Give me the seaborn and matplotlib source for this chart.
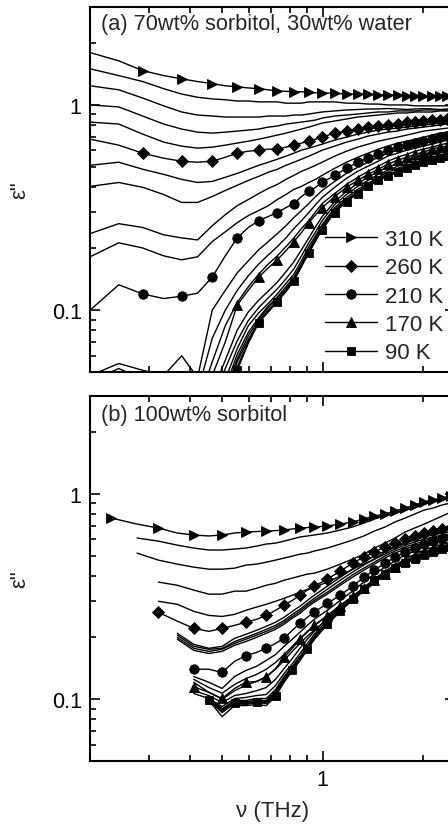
import numpy as np
import pandas as pd
import matplotlib
matplotlib.use("Agg")
import matplotlib.pyplot as plt
from matplotlib import ticker
import seaborn as sns

nan = np.nan

# ---------------- data ----------------
TEMPS = [310, 300, 290, 280, 270, 260, 250, 240, 230, 220, 210, 200,
         190, 180, 170, 160, 150, 140, 130, 120, 110, 100, 90]

FREQ_A = [0.200, 0.244, 0.288, 0.333, 0.377, 0.421, 0.466, 0.510, 0.554, 0.598,
          0.643, 0.687, 0.731, 0.776, 0.820, 0.864, 0.909, 0.953, 0.997,
          1.087, 1.18, 1.275, 1.37, 1.47, 1.57, 1.68, 1.79, 1.90, 2.01, 2.13,
          2.25, 2.37, 2.50]

FREQ_B = [0.232, 0.277, 0.321, 0.366, 0.410, 0.455, 0.499, 0.544, 0.588, 0.633,
          0.677, 0.722, 0.766, 0.811, 0.855, 0.900, 0.944,
          1.033, 1.13, 1.23, 1.33, 1.43, 1.54, 1.65, 1.77, 1.89, 2.02, 2.15,
          2.29, 2.43, 2.57]

# (a) 70wt% sorbitol, 30wt% water
A310 = [1.80, 1.64, 1.47, 1.39, 1.34, 1.30, 1.27, 1.24, 1.225, 1.21, 1.20, 1.185, 1.17, 1.165, 1.16, 1.16, 1.15, 1.145, 1.145,
        1.14, 1.13, 1.13, 1.125, 1.12, 1.115, 1.115, 1.11, 1.11, 1.105, 1.10, 1.10, 1.10, 1.10]
A300 = [1.50, 1.39, 1.30, 1.20, 1.13, 1.09, 1.07, 1.06, 1.045, 1.045, 1.035, 1.035, 1.035, 1.02, 1.02, 1.02, 1.035, 1.035, 1.035,
        1.035, 1.02, 1.02, 1.01, 1.01, 1.00, 1.00, 1.00, 0.99, 0.99, 0.99, 0.99, 0.99, 0.99]
A290 = [1.24, 1.185, 1.08, 0.99, 0.924, 0.893, 0.883, 0.873, 0.873, 0.873, 0.873, 0.883, 0.883, 0.883, 0.893, 0.893, 0.903, 0.914, 0.924,
        0.935, 0.945, 0.95, 0.956, 0.956, 0.96, 0.956, 0.95, 0.956, 0.96, 0.956, 0.95, 0.956, 0.956]
A280 = [1.00, 0.978, 0.883, 0.807, 0.763, 0.737, 0.729, 0.737, 0.746, 0.754, 0.763, 0.78, 0.789, 0.807, 0.816, 0.825, 0.835, 0.844, 0.863,
        0.883, 0.893, 0.903, 0.914, 0.924, 0.924, 0.935, 0.935, 0.935, 0.945, 0.945, 0.945, 0.945, 0.945]
A270 = [0.825, 0.807, 0.721, 0.659, 0.63, 0.616, 0.623, 0.637, 0.652, 0.666, 0.681, 0.697, 0.713, 0.729, 0.746, 0.763, 0.78, 0.798, 0.816,
        0.835, 0.854, 0.873, 0.883, 0.893, 0.903, 0.914, 0.914, 0.924, 0.924, 0.924, 0.935, 0.935, 0.935]
A260 = [0.681, 0.637, 0.582, 0.55, 0.532, 0.526, 0.532, 0.556, 0.582, 0.595, 0.602, 0.609, 0.609, 0.623, 0.637, 0.652, 0.666, 0.681, 0.697,
        0.729, 0.746, 0.763, 0.78, 0.789, 0.798, 0.807, 0.825, 0.83, 0.835, 0.844, 0.849, 0.854, 0.854]
A250 = [0.508, 0.526, 0.486, 0.459, 0.434, 0.419, 0.424, 0.444, 0.464, 0.486, 0.508, 0.526, 0.544, 0.563, 0.582, 0.602, 0.616, 0.63, 0.644,
        0.674, 0.697, 0.721, 0.737, 0.754, 0.763, 0.771, 0.78, 0.789, 0.798, 0.807, 0.816, 0.816, 0.825]
A240 = [0.401, 0.419, 0.397, 0.366, 0.335, 0.335, 0.358, 0.383, 0.406, 0.429, 0.449, 0.47, 0.486, 0.508, 0.526, 0.544, 0.563, 0.582, 0.602,
        0.63, 0.659, 0.681, 0.705, 0.721, 0.737, 0.746, 0.763, 0.771, 0.78, 0.789, 0.798, 0.807, 0.807]
A230 = [0.236, 0.264, 0.253, 0.233, 0.225, 0.22, 0.258, 0.292, 0.323, 0.346, 0.37, 0.392, 0.41, 0.434, 0.454, 0.475, 0.491, 0.508, 0.526,
        0.563, 0.595, 0.623, 0.644, 0.666, 0.681, 0.697, 0.713, 0.729, 0.746, 0.754, 0.763, 0.771, 0.78]
A220 = [0.182, 0.213, 0.201, 0.184, 0.176, 0.182, 0.216, 0.241, 0.267, 0.289, 0.306, 0.323, 0.346, 0.366, 0.388, 0.401, 0.419, 0.434, 0.454,
        0.491, 0.526, 0.556, 0.582, 0.609, 0.63, 0.652, 0.666, 0.681, 0.697, 0.713, 0.729, 0.737, 0.746]
A210 = [0.100, 0.133, 0.120, 0.114, 0.117, 0.121, 0.145, 0.184, 0.225, 0.253, 0.273, 0.286, 0.299, 0.316, 0.331, 0.358, 0.379, 0.397, 0.419,
        0.454, 0.491, 0.526, 0.55, 0.575, 0.602, 0.623, 0.637, 0.652, 0.666, 0.681, 0.697, 0.705, 0.713]
A200 = [0.048, 0.055, 0.051, 0.048, 0.060, 0.047, 0.100, 0.125, 0.152, 0.174, 0.197, 0.216, 0.236, 0.258, 0.283, 0.306, 0.331, 0.358, 0.383,
        0.424, 0.464, 0.497, 0.526, 0.556, 0.582, 0.602, 0.623, 0.637, 0.652, 0.666, 0.681, 0.689, 0.697]
A190 = [0.045, 0.052, 0.046, 0.044, 0.049, 0.040, 0.073, 0.100, 0.125, 0.147, 0.168, 0.186, 0.204, 0.225, 0.25, 0.273, 0.299, 0.327, 0.354,
        0.397, 0.439, 0.475, 0.503, 0.532, 0.563, 0.582, 0.602, 0.616, 0.63, 0.644, 0.659, 0.674, 0.681]
A180 = [nan] * 5 + [0.035, 0.056, 0.084, 0.109, 0.13, 0.15, 0.168, 0.184, 0.204, 0.225, 0.25, 0.273, 0.302, 0.331,
                    0.37, 0.41, 0.444, 0.475, 0.503, 0.532, 0.556, 0.575, 0.595, 0.609, 0.623, 0.637, 0.652, 0.659]
A170 = [nan] * 5 + [0.03, 0.048, 0.07, 0.106, 0.125, 0.145, 0.161, 0.176, 0.195, 0.216, 0.239, 0.267, 0.292, 0.316,
                    0.358, 0.397, 0.429, 0.459, 0.486, 0.514, 0.538, 0.556, 0.575, 0.589, 0.609, 0.623, 0.63, 0.637]
A160 = [nan] * 6 + [0.04, 0.057, 0.08, 0.098, 0.112, 0.124, 0.137, 0.154, 0.172, 0.197, 0.225, 0.255, 0.286,
                    0.338, 0.379, 0.415, 0.444, 0.475, 0.497, 0.52, 0.537, 0.556, 0.575, 0.589, 0.602, 0.616, 0.623]
A150 = [nan] * 6 + [0.035, 0.052, 0.071, 0.089, 0.103, 0.115, 0.127, 0.142, 0.159, 0.184, 0.213, 0.241, 0.273,
                    0.327, 0.366, 0.401, 0.429, 0.459, 0.48, 0.503, 0.52, 0.537, 0.556, 0.569, 0.582, 0.595, 0.602]
A140 = [nan] * 7 + [0.046, 0.065, 0.084, 0.097, 0.108, 0.12, 0.135, 0.15, 0.174, 0.204, 0.231, 0.261,
                    0.316, 0.354, 0.388, 0.415, 0.444, 0.47, 0.491, 0.508, 0.526, 0.544, 0.556, 0.569, 0.582, 0.589]
A130 = [nan] * 7 + [0.042, 0.061, 0.078, 0.092, 0.105, 0.116, 0.13, 0.145, 0.168, 0.197, 0.225, 0.255,
                    0.309, 0.346, 0.379, 0.41, 0.439, 0.459, 0.48, 0.503, 0.52, 0.537, 0.55, 0.563, 0.575, 0.582]
A120 = [nan] * 7 + [0.04, 0.058, 0.075, 0.09, 0.103, 0.115, 0.127, 0.143, 0.166, 0.195, 0.222, 0.253,
                    0.306, 0.342, 0.375, 0.406, 0.434, 0.454, 0.475, 0.497, 0.514, 0.532, 0.544, 0.556, 0.569, 0.575]
A110 = [nan] * 7 + [0.038, 0.056, 0.072, 0.088, 0.100, 0.112, 0.125, 0.141, 0.165, 0.193, 0.22, 0.25,
                    0.302, 0.34, 0.373, 0.403, 0.431, 0.452, 0.472, 0.494, 0.511, 0.529, 0.54, 0.553, 0.566, 0.572]
A100 = [nan] * 7 + [0.036, 0.053, 0.070, 0.088, 0.099, 0.111, 0.124, 0.140, 0.164, 0.191, 0.219, 0.248,
                    0.30, 0.339, 0.371, 0.402, 0.43, 0.45, 0.471, 0.492, 0.509, 0.527, 0.538, 0.551, 0.564, 0.57]
A90 = [nan] * 7 + [0.035, 0.051, 0.069, 0.087, 0.098, 0.11, 0.123, 0.139, 0.163, 0.19, 0.218, 0.247,
                   0.299, 0.338, 0.37, 0.401, 0.429, 0.449, 0.47, 0.491, 0.508, 0.526, 0.537, 0.55, 0.563, 0.569]

# (b) 100wt% sorbitol
B310 = [0.763, 0.713, 0.682, 0.645, 0.631, 0.624, 0.631, 0.645, 0.652, 0.656, 0.659, 0.663, 0.667, 0.675, 0.682, 0.686, 0.69,
        0.698, 0.713, 0.73, 0.755, 0.781, 0.798, 0.826, 0.854, 0.884, 0.914, 0.935, 0.956, 0.978, 0.989]
B300 = [nan, 0.61, 0.589, 0.563, 0.545, 0.533, 0.533, 0.539, 0.545, 0.557, 0.57, 0.576, 0.589, 0.603, 0.617, 0.624, 0.631,
        0.645, 0.667, 0.69, 0.721, 0.755, 0.781, 0.808, 0.835, 0.854, 0.894, 0.914, 0.935, 0.956, 0.967]
B290 = [nan, 0.515, 0.476, 0.455, 0.44, 0.43, 0.43, 0.435, 0.45, 0.455, 0.465, 0.476, 0.487, 0.498, 0.509, 0.515, 0.527,
        0.545, 0.57, 0.596, 0.624, 0.659, 0.69, 0.73, 0.763, 0.798, 0.835, 0.854, 0.884, 0.904, 0.914]
B280 = [nan, nan, 0.372, 0.359, 0.34, 0.325, 0.325, 0.336, 0.336, 0.347, 0.359, 0.367, 0.38, 0.389, 0.398, 0.407, 0.411,
        0.43, 0.455, 0.481, 0.509, 0.545, 0.576, 0.61, 0.652, 0.682, 0.713, 0.746, 0.781, 0.817, 0.835]
B270 = [nan, nan, 0.30, 0.29, 0.268, 0.256, 0.253, 0.259, 0.271, 0.281, 0.29, 0.30, 0.31, 0.321, 0.332, 0.343, 0.351,
        0.372, 0.398, 0.43, 0.455, 0.481, 0.521, 0.551, 0.576, 0.603, 0.638, 0.659, 0.682, 0.706, 0.721]
B260 = [nan, nan, 0.265, 0.24, 0.2215, 0.214, 0.2215, 0.229, 0.237, 0.245, 0.256, 0.271, 0.287, 0.303, 0.321, 0.34, 0.355,
        0.385, 0.42, 0.46, 0.492, 0.521, 0.551, 0.576, 0.603, 0.624, 0.645, 0.659, 0.675, 0.682, 0.69]
B250 = [nan, nan, nan, 0.2094, 0.185, 0.177, 0.181, 0.198, 0.207, 0.2166, 0.2266, 0.237, 0.2506, 0.268, 0.2838, 0.303, 0.321,
        0.355, 0.393, 0.43, 0.465, 0.498, 0.527, 0.551, 0.576, 0.596, 0.617, 0.631, 0.645, 0.652, 0.659]
B240 = [nan, nan, nan, 0.205, 0.181, 0.175, 0.177, 0.191, 0.20, 0.2094, 0.219, 0.229, 0.242, 0.259, 0.274, 0.293, 0.31,
        0.343, 0.38, 0.416, 0.45, 0.481, 0.509, 0.539, 0.563, 0.583, 0.603, 0.617, 0.631, 0.638, 0.645]
B230 = [nan, nan, nan, 0.20, 0.177, 0.171, 0.175, 0.187, 0.196, 0.205, 0.214, 0.224, 0.237, 0.253, 0.268, 0.287, 0.303,
        0.332, 0.367, 0.403, 0.435, 0.465, 0.498, 0.527, 0.551, 0.57, 0.589, 0.61, 0.624, 0.631, 0.638]
B220 = [nan, nan, nan, 0.196, 0.173, 0.167, 0.171, 0.183, 0.191, 0.20, 0.2094, 0.219, 0.232, 0.248, 0.262, 0.281, 0.297,
        0.325, 0.359, 0.393, 0.425, 0.455, 0.487, 0.515, 0.539, 0.557, 0.576, 0.596, 0.61, 0.617, 0.624]
B210 = [nan, nan, nan, nan, 0.14, 0.14, 0.135, 0.153, 0.163, 0.169, 0.177, 0.187, 0.198, 0.2166, 0.234, 0.2506, 0.265,
        0.293, 0.321, 0.355, 0.393, 0.425, 0.46, 0.492, 0.521, 0.545, 0.57, 0.589, 0.603, 0.617, 0.624]
B200 = [nan, nan, nan, nan, 0.129, 0.121, 0.1128, 0.129, 0.138, 0.1445, 0.1545, 0.165, 0.181, 0.196, 0.212, 0.229, 0.245,
        0.271, 0.303, 0.336, 0.372, 0.407, 0.44, 0.471, 0.504, 0.527, 0.551, 0.57, 0.589, 0.603, 0.61]
B190 = [nan, nan, nan, nan, 0.125, 0.114, 0.107, 0.118, 0.126, 0.132, 0.14, 0.151, 0.165, 0.181, 0.198, 0.214, 0.229,
        0.256, 0.287, 0.317, 0.351, 0.385, 0.42, 0.45, 0.481, 0.509, 0.533, 0.551, 0.57, 0.583, 0.589]
B180 = [nan, nan, nan, nan, 0.121, 0.108, 0.10, 0.11, 0.117, 0.122, 0.129, 0.14, 0.1545, 0.171, 0.187, 0.203, 0.2166,
        0.245, 0.274, 0.303, 0.336, 0.367, 0.403, 0.435, 0.465, 0.492, 0.515, 0.539, 0.557, 0.57, 0.576]
B170 = [nan, nan, nan, nan, 0.115, 0.108, 0.1008, 0.1128, 0.121, 0.122, 0.1277, 0.141, 0.16, 0.177, 0.196, 0.212, 0.229,
        0.253, 0.284, 0.317, 0.347, 0.38, 0.407, 0.44, 0.471, 0.498, 0.521, 0.539, 0.557, 0.57, 0.576]
B160 = [nan, nan, nan, nan, 0.11, 0.1042, 0.0964, 0.1042, 0.1066, 0.11, 0.114, 0.125, 0.141, 0.158, 0.177, 0.196, 0.214,
        0.248, 0.281, 0.314, 0.347, 0.38, 0.411, 0.445, 0.471, 0.492, 0.515, 0.533, 0.551, 0.563, 0.57]
B150 = [nan, nan, nan, nan, 0.1066, 0.1008, 0.0921, 0.1008, 0.102, 0.1042, 0.1054, 0.1166, 0.1335, 0.149, 0.167, 0.187, 0.207,
        0.242, 0.277, 0.307, 0.343, 0.375, 0.407, 0.44, 0.466, 0.487, 0.509, 0.527, 0.545, 0.557, 0.563]
B140 = [nan] * 5 + [0.1008, 0.090, 0.0986, 0.0986, 0.1008, 0.1008, 0.1115, 0.129, 0.1445, 0.1616, 0.181, 0.2025,
                    0.237, 0.274, 0.307, 0.343, 0.372, 0.403, 0.435, 0.46, 0.481, 0.504, 0.521, 0.539, 0.551, 0.557]
B130 = [nan] * 5 + [0.0997, 0.089, 0.0975, 0.0975, 0.0986, 0.0986, 0.109, 0.126, 0.143, 0.16, 0.179, 0.20,
                    0.234, 0.271, 0.307, 0.343, 0.372, 0.403, 0.435, 0.46, 0.481, 0.504, 0.521, 0.539, 0.551, 0.557]
B120 = [nan] * 5 + [0.0997, 0.088, 0.0964, 0.0964, 0.0975, 0.0975, 0.108, 0.125, 0.141, 0.158, 0.177, 0.198,
                    0.232, 0.271, 0.307, 0.343, 0.38, 0.407, 0.435, 0.46, 0.481, 0.504, 0.521, 0.539, 0.551, 0.557]
B110 = [nan] * 5 + [0.0986, 0.0871, 0.0953, 0.0953, 0.0964, 0.0964, 0.1054, 0.122, 0.14, 0.156, 0.175, 0.196,
                    0.232, 0.268, 0.307, 0.343, 0.38, 0.407, 0.435, 0.46, 0.481, 0.504, 0.521, 0.539, 0.551, 0.557]
B100 = [nan] * 5 + [0.0986, 0.0823, 0.0931, 0.0931, 0.0942, 0.0931, 0.1031, 0.121, 0.138, 0.1545, 0.175, 0.196,
                    0.2317, 0.268, 0.307, 0.343, 0.38, 0.407, 0.435, 0.46, 0.481, 0.504, 0.521, 0.539, 0.551, 0.557]
B90 = [nan] * 5 + [0.0986, 0.0861, 0.0953, 0.0942, 0.0964, 0.0953, 0.1042, 0.122, 0.138, 0.1545, 0.175, 0.196,
                   0.2317, 0.268, 0.307, 0.343, 0.38, 0.407, 0.435, 0.46, 0.481, 0.504, 0.521, 0.539, 0.551, 0.557]

CURVES_A = dict(zip(TEMPS, [A310, A300, A290, A280, A270, A260, A250, A240, A230, A220, A210, A200,
                            A190, A180, A170, A160, A150, A140, A130, A120, A110, A100, A90]))
CURVES_B = dict(zip(TEMPS, [B310, B300, B290, B280, B270, B260, B250, B240, B230, B220, B210, B200,
                            B190, B180, B170, B160, B150, B140, B130, B120, B110, B100, B90]))

MARKED = {310: (">", 7.3), 260: ("D", 5.8), 210: ("o", 6.8), 170: ("^", 7.3), 90: ("s", 6.0)}

TITLE_A = "(a) 70wt% sorbitol, 30wt% water"
TITLE_B = "(b) 100wt% sorbitol"

for T in TEMPS:
    assert len(CURVES_A[T]) == len(FREQ_A), ("A", T, len(CURVES_A[T]))
    assert len(CURVES_B[T]) == len(FREQ_B), ("B", T, len(CURVES_B[T]))

# ---------------- style ----------------
sns.set_theme(style="ticks")
plt.rcParams["font.family"] = ["Liberation Sans", "DejaVu Sans"]
plt.rcParams["axes.linewidth"] = 1.5

W, H = 448, 829
fig = plt.figure(figsize=(W / 100, H / 100), dpi=100)
ax_a = fig.add_axes([90 / W, 1 - 373 / H, 365 / W, 365 / H])
ax_b = fig.add_axes([90 / W, 1 - 762 / H, 365 / W, 365 / H])


def draw(ax, freqs, curves, nsplit, relative_start):
    ax.set_xscale("log")
    ax.set_yscale("log")
    f = np.asarray(freqs, float)
    handles = []
    for T in TEMPS:
        v = np.asarray(curves[T], float)
        keep = ~np.isnan(v)
        kept = np.flatnonzero(keep)
        df = pd.DataFrame({"nu": f[keep], "eps": v[keep]})
        kw = dict(color="black", lw=1.0)
        if T in MARKED:
            m, ms = MARKED[T]
            start = kept[0] if relative_start else 2
            marks = [j for j, k in enumerate(kept)
                     if (k >= nsplit) or (k >= start and (k - start) % 2 == 0)]
            kw.update(marker=m, markersize=ms, markevery=marks,
                      markerfacecolor="black", markeredgecolor="black",
                      markeredgewidth=0.6, label=f"{T} K")
        sns.lineplot(data=df, x="nu", y="eps", ax=ax, sort=False,
                     estimator=None, legend=False, **kw)
        if T in MARKED:
            handles.append(ax.lines[-1])
    return handles


handles = draw(ax_a, FREQ_A, CURVES_A, 19, False)
draw(ax_b, FREQ_B, CURVES_B, 17, True)

fmt = ticker.FuncFormatter(lambda v, p: f"{v:g}")
for ax in (ax_a, ax_b):
    ax.set_xlim(0.2, 2.5)
    ax.set_ylim(0.05, 3.0)
    for axis in (ax.xaxis, ax.yaxis):
        axis.set_major_locator(ticker.LogLocator(base=10, numticks=10))
        axis.set_minor_locator(ticker.LogLocator(base=10, subs=np.arange(2, 10) * 1.0, numticks=30))
        axis.set_major_formatter(fmt)
        axis.set_minor_formatter(ticker.NullFormatter())
    ax.tick_params(which="both", direction="in", top=True, right=True,
                   width=1.2, colors="black", labelsize=15.5, pad=6)
    ax.tick_params(which="major", length=7)
    ax.tick_params(which="minor", length=4)
    for s in ax.spines.values():
        s.set_linewidth(1.5)
        s.set_color("black")
    ax.set_ylabel('ε"', fontsize=16)
    ax.yaxis.set_label_coords(-60 / 365, 0.5)
    ax.set_xlabel("")

ax_a.tick_params(labelbottom=False)
ax_b.set_xlabel("ν (THz)", fontsize=16)
ax_b.xaxis.set_label_coords(0.5, -39 / 365)

ax_a.text(0.03, 0.955, TITLE_A, transform=ax_a.transAxes, ha="left", va="center", fontsize=15.7)
ax_b.text(0.03, 0.948, TITLE_B, transform=ax_b.transAxes, ha="left", va="center", fontsize=15.7)

ax_a.legend(handles, [h.get_label() for h in handles], loc="upper left",
            bbox_to_anchor=(325 / W, 1 - 230 / H), bbox_transform=fig.transFigure,
            frameon=False, borderpad=0, borderaxespad=0, handlelength=2.35,
            handletextpad=0.35, labelspacing=0.33, fontsize=16)

fig.savefig("out.png", dpi=100)
